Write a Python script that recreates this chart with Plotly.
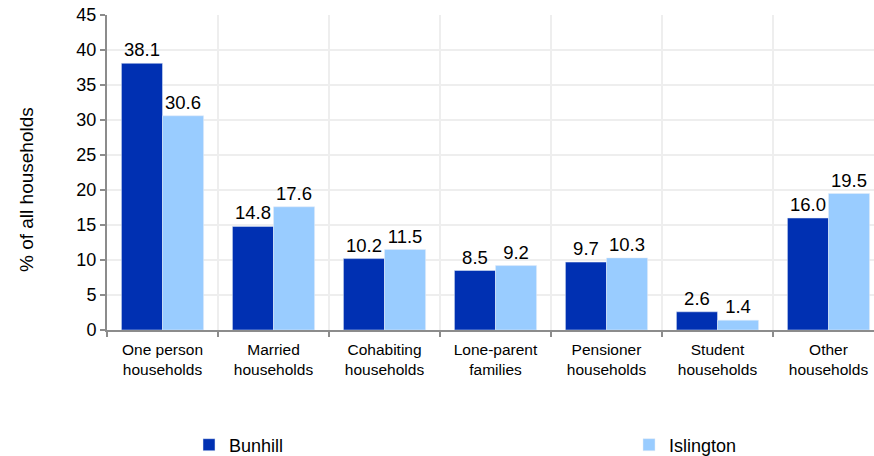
import plotly.graph_objects as go

categories = ["One person<br>households", "Married<br>households", "Cohabiting<br>households",
              "Lone-parent<br>families", "Pensioner<br>households", "Student<br>households",
              "Other<br>households"]
bunhill = [38.1, 14.8, 10.2, 8.5, 9.7, 2.6, 16.0]
islington = [30.6, 17.6, 11.5, 9.2, 10.3, 1.4, 19.5]
y_ticks = [0, 5, 10, 15, 20, 25, 30, 35, 40, 45]

FONT = "Liberation Sans, Arial, sans-serif"
W, H = 874, 456
L, T, B = 107, 15, 126
PW, PH = W - L, H - T - B

fig = go.Figure()
fig.add_trace(go.Bar(name="Bunhill", x=categories, y=bunhill, marker_color="#0030b2",
                     text=[f"{v:.1f}" for v in bunhill], textposition="outside",
                     textfont=dict(size=18.5, color="#000"), cliponaxis=False, legend="legend"))
fig.add_trace(go.Bar(name="Islington", x=categories, y=islington, marker_color="#99ccff",
                     text=[f"{v:.1f}" for v in islington], textposition="outside",
                     textfont=dict(size=18.5, color="#000"), cliponaxis=False, legend="legend2"))

legend_common = dict(orientation="h", xref="container", yref="container",
                     xanchor="left", yanchor="middle", font=dict(size=18, color="#000"),
                     bgcolor="rgba(0,0,0,0)")

fig.add_annotation(text="% of all households", textangle=-90, showarrow=False,
                   xref="paper", yref="paper", x=(26 - L) / PW, y=(T + PH - 190) / PH,
                   xanchor="center", yanchor="middle", font=dict(size=19, color="#000"))

fig.update_layout(
    width=W, height=H,
    margin=dict(l=L, r=0, t=T, b=B),
    plot_bgcolor="white", paper_bgcolor="white",
    font=dict(family=FONT, color="#000"),
    barmode="group", bargap=0.26, bargroupgap=0,
    showlegend=True,
    legend=dict(x=189 / W, y=(H - 445) / H, **legend_common),
    legend2=dict(x=629 / W, y=(H - 445) / H, **legend_common),
    xaxis=dict(range=[-0.5, 6.41], tickson="boundaries", ticks="outside", ticklen=5,
               tickcolor="#8c8c8c", tickwidth=2, automargin=False, ticklabelstandoff=4,
               showline=True, linecolor="#8c8c8c", linewidth=2,
               showgrid=True, gridcolor="#eeeeee", gridwidth=2,
               tickfont=dict(size=15.5, color="#000")),
    yaxis=dict(range=[0, 45], tickvals=y_ticks, ticks="outside", ticklen=5,
               tickcolor="#8c8c8c", tickwidth=2, automargin=False,
               showline=True, linecolor="#8c8c8c", linewidth=2,
               showgrid=True, gridcolor="#eeeeee", gridwidth=2, zeroline=False,
               tickfont=dict(size=18, color="#000")),
)

fig.write_html("out.html", config={"displayModeBar": False},
               post_script="document.body.style.margin='0';")
